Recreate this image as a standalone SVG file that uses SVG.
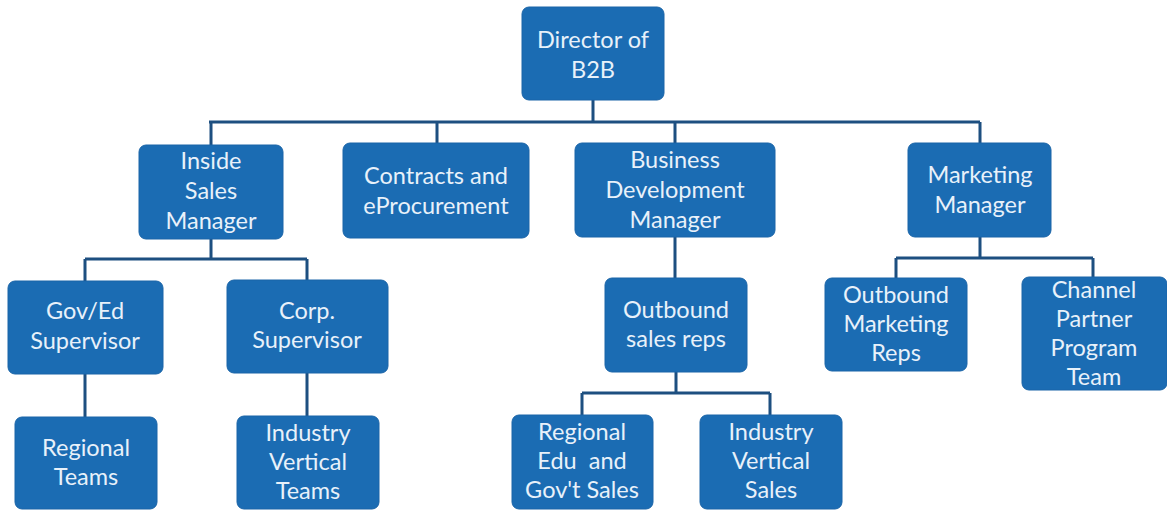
<svg xmlns="http://www.w3.org/2000/svg" width="1167" height="510" viewBox="0 0 1167 510">
<style>
.box{fill:#1b6cb3;stroke:#1a64a8;stroke-width:1}
.t{font-family:Lato,"Open Sans",sans-serif;font-size:23.5px;fill:#e8f1fa;text-anchor:middle}
.c{fill:none;stroke:#1d4f80;stroke-width:3}
</style>
<rect width="1167" height="510" fill="#ffffff"/>
<g id="connectors">
<path class="c" d="M593 100V122M209 122H980M211 122V145M437 122V143M675 122V143M980 122V143"/>
<path class="c" d="M211 239V259M85 259H307M85 259V281M307 259V280M85 374V417M307 373V416"/>
<path class="c" d="M675 237V278M676 372V393M582 393H770M582 393V415M770 393V415"/>
<path class="c" d="M980 237V258M896 258H1093M896 258V278M1093 258V277"/>
</g>
<g id="director"><rect class="box" x="522" y="7" width="142" height="93" rx="7"/><text class="t" x="593" y="48">Director of</text><text class="t" x="593" y="78">B2B</text></g>
<g id="inside-sales"><rect class="box" x="139" y="145" width="144" height="94" rx="7"/><text class="t" x="211" y="169">Inside</text><text class="t" x="211" y="199">Sales</text><text class="t" x="211" y="229">Manager</text></g>
<g id="contracts"><rect class="box" x="343" y="143" width="186" height="95" rx="7"/><text class="t" x="436" y="184">Contracts and</text><text class="t" x="436" y="214">eProcurement</text></g>
<g id="bdm"><rect class="box" x="575" y="143" width="200" height="94" rx="7"/><text class="t" x="675" y="168">Business</text><text class="t" x="675" y="198">Development</text><text class="t" x="675" y="228">Manager</text></g>
<g id="marketing"><rect class="box" x="908" y="143" width="143" height="94" rx="7"/><text class="t" x="980" y="183">Marketing</text><text class="t" x="980" y="213">Manager</text></g>
<g id="goved"><rect class="box" x="8" y="281" width="155" height="93" rx="7"/><text class="t" x="85" y="319">Gov/Ed</text><text class="t" x="85" y="349">Supervisor</text></g>
<g id="corp"><rect class="box" x="227" y="280" width="161" height="93" rx="7"/><text class="t" x="307" y="319">Corp.</text><text class="t" x="307" y="348">Supervisor</text></g>
<g id="regional-teams"><rect class="box" x="15" y="417" width="142" height="92" rx="7"/><text class="t" x="86" y="456">Regional</text><text class="t" x="86" y="485">Teams</text></g>
<g id="industry-teams"><rect class="box" x="237" y="416" width="142" height="93" rx="7"/><text class="t" x="308" y="441">Industry</text><text class="t" x="308" y="470">Vertical</text><text class="t" x="308" y="499">Teams</text></g>
<g id="outbound-sales"><rect class="box" x="605" y="278" width="142" height="94" rx="7"/><text class="t" x="676" y="318">Outbound</text><text class="t" x="676" y="347">sales reps</text></g>
<g id="regional-edu"><rect class="box" x="512" y="415" width="141" height="94" rx="7"/><text class="t" x="582" y="440">Regional</text><text class="t" x="582" y="469" style="white-space:pre">Edu  and</text><text class="t" x="582" y="498">Gov't Sales</text></g>
<g id="industry-sales"><rect class="box" x="700" y="415" width="142" height="94" rx="7"/><text class="t" x="771" y="440">Industry</text><text class="t" x="771" y="469">Vertical</text><text class="t" x="771" y="498">Sales</text></g>
<g id="outbound-marketing"><rect class="box" x="825" y="278" width="142" height="93" rx="7"/><text class="t" x="896" y="303">Outbound</text><text class="t" x="896" y="332">Marketing</text><text class="t" x="896" y="361">Reps</text></g>
<g id="channel"><rect class="box" x="1022" y="277" width="145" height="113" rx="7"/><text class="t" x="1094" y="298">Channel</text><text class="t" x="1094" y="327">Partner</text><text class="t" x="1094" y="356">Program</text><text class="t" x="1094" y="385">Team</text></g>
</svg>
